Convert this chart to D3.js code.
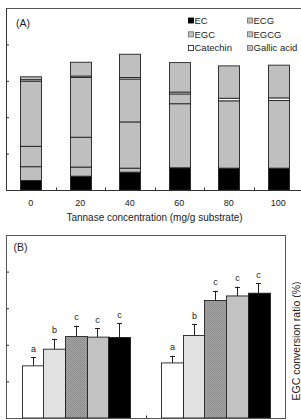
<!DOCTYPE html>
<html><head><meta charset="utf-8">
<script src="https://cdn.jsdelivr.net/npm/d3@7"></script>
<style>html,body{margin:0;padding:0;background:#fff;} svg{display:block;font-family:"Liberation Sans",Arial,sans-serif;}</style>
</head><body><svg id="c" width="301" height="420"></svg>
<script>
// ---------- Panel A data ----------
const concentrations = ["0","20","40","60","80","100"];
const compounds = ["EC","ECG","EGC","EGCG","Catechin","Gallic acid"];
const EC        = [0.26,0.38,0.49,0.61,0.60,0.60];
const ECG       = [0.38,0.25,0.11,0.00,0.00,0.00];
const EGC       = [0.56,0.82,1.27,1.76,1.85,1.86];
const EGCG      = [1.79,1.64,1.18,0.27,0.00,0.00];
const Catechin  = [0.04,0.04,0.04,0.05,0.07,0.07];
const GallicAcid= [0.08,0.38,0.64,0.81,0.89,0.90];
const yTicksA = [1,2,3,4];

// ---------- Panel B data ----------
const groupsB = ["G1","G2"];
const seriesB = ["S1","S2","S3","S4","S5"];
const meanG1 = [28.5,37.6,44.5,44.2,44.0];
const errG1  = [4.8,5.7,5.9,4.9,7.8];
const meanG2 = [30.1,45.1,64.2,66.7,68.2];
const errG2  = [3.9,6.2,5.3,5.1,5.4];
const lettersG1 = ["a","b","c","c","c"];
const lettersG2 = ["a","b","c","c","c"];
const yTicksB = [20,40,60,80];

const svg = d3.select("#c");
const ink = "#333";

// ================= PANEL A =================
const A = {l:6, r:303, t:8, b:190};
const xA = d3.scaleBand().domain(concentrations).range([A.l, A.r]).paddingInner(0.576).paddingOuter(0.288);
const yA = d3.scaleLinear().domain([0,5]).range([A.b, A.t]);

const seriesVals = {"EC":EC,"ECG":ECG,"EGC":EGC,"EGCG":EGCG,"Catechin":Catechin,"Gallic acid":GallicAcid};
const tableA = concentrations.map((c,i)=>{const o={conc:c}; compounds.forEach(k=>o[k]=seriesVals[k][i]); return o;});
const stackA = d3.stack().keys(compounds)(tableA);
const fillA = {"EC":"#000","ECG":"#bfbfbf","EGC":"#bfbfbf","EGCG":"#bfbfbf","Catechin":"#fff","Gallic acid":"#bfbfbf"};

const gA = svg.append("g");
stackA.forEach(layer=>{
  gA.selectAll(null).data(layer).enter().append("rect")
    .attr("x", d=>Math.round(xA(d.data.conc))+0.5)
    .attr("width", Math.round(xA.bandwidth()))
    .attr("y", d=>yA(d[1]))
    .attr("height", d=>yA(d[0])-yA(d[1]))
    .attr("fill", fillA[layer.key])
    .attr("stroke", "#222").attr("stroke-width", 0.9);
});

// frame: left, top, bottom
gA.append("line").attr("x1",A.l+0.5).attr("x2",A.l+0.5).attr("y1",A.t).attr("y2",A.b).attr("stroke",ink);
gA.append("line").attr("x1",A.l).attr("x2",A.r).attr("y1",A.t+0.5).attr("y2",A.t+0.5).attr("stroke","#555");
gA.append("line").attr("x1",A.l).attr("x2",A.r).attr("y1",A.b+0.5).attr("y2",A.b+0.5).attr("stroke",ink);

// y ticks (inward)
const yAxA = gA.append("g").attr("transform",`translate(${A.l+0.5},0)`)
  .call(d3.axisRight(yA).tickValues(yTicksA).tickSize(2.5).tickFormat(""));
yAxA.select(".domain").remove();
yAxA.selectAll("line").attr("stroke",ink);

// x tick labels
const xAxA = gA.append("g").attr("transform",`translate(0,${A.b})`)
  .call(d3.axisBottom(xA).tickSize(0).tickPadding(10));
xAxA.select(".domain").remove();
xAxA.selectAll("text").attr("font-size",9).attr("font-family","Liberation Sans, Arial, sans-serif").attr("fill","#222");

// x ticks between bars (inward)
const stepA = xA.step();
gA.selectAll(null).data(concentrations.slice(0,-1)).enter().append("line")
  .attr("x1", d=>Math.round(xA(d)+xA.bandwidth()/2+stepA/2)+0.5)
  .attr("x2", d=>Math.round(xA(d)+xA.bandwidth()/2+stepA/2)+0.5)
  .attr("y1", A.b).attr("y2", A.b-2.5).attr("stroke", ink);

gA.append("text").attr("x", (xA(concentrations[0])+xA(concentrations[5])+xA.bandwidth())/2).attr("y", 220.5)
  .attr("text-anchor","middle").attr("font-size",10).attr("fill","#222")
  .text("Tannase concentration (mg/g substrate)");

gA.append("text").attr("x",16).attr("y",26.5).attr("font-size",10.5).attr("fill","#222").text("(A)");

// legend
const legCols = [188, 247];
const legRows = [20.5, 34.3, 48];
const legStroke = {"EC":"#000","ECG":"#777","EGC":"#777","EGCG":"#777","Catechin":"#333","Gallic acid":"#777"};
compounds.forEach((k,i)=>{
  const cx = legCols[i%2], cy = legRows[Math.floor(i/2)];
  gA.append("rect").attr("x",cx+0.5).attr("y",cy-3+0.5).attr("width",5).attr("height",5)
    .attr("fill",fillA[k]).attr("stroke",legStroke[k]).attr("stroke-width",0.9);
  gA.append("text").attr("x",cx+6.5).attr("y",cy+3.4).attr("font-size",9.5).attr("fill","#222").text(k);
});

// ================= PANEL B =================
const B = {l:6, r:285, t:235, b:418};
const x0B = d3.scaleBand().domain(groupsB).range([B.l, B.r]).paddingInner(0.229).paddingOuter(0.1145);
const x1B = d3.scaleBand().domain(seriesB).range([0, x0B.bandwidth()]).padding(0);
const yB = d3.scaleLinear().domain([0,100]).range([B.b, B.t]);

const defs = svg.append("defs");
const pat = defs.append("pattern").attr("id","stip").attr("width",2).attr("height",2).attr("patternUnits","userSpaceOnUse");
pat.append("rect").attr("width",2).attr("height",2).attr("fill","#a8a8a8");
pat.append("rect").attr("width",1).attr("height",1).attr("fill","#858585");
pat.append("rect").attr("x",1).attr("y",1).attr("width",1).attr("height",1).attr("fill","#8e8e8e");

const fillB = ["#fff","#e1e1e1","url(#stip)","#c2c2c2","#000"];
const tableB = [
  {g:groupsB[0], mean:meanG1, err:errG1, let:lettersG1},
  {g:groupsB[1], mean:meanG2, err:errG2, let:lettersG2}
];
const flatB = [];
tableB.forEach(row=>seriesB.forEach((s,i)=>flatB.push({g:row.g,s:s,i:i,v:row.mean[i],e:row.err[i],l:row.let[i]})));

const gB = svg.append("g");
gB.selectAll(null).data(flatB).enter().append("rect")
  .attr("x", d=>Math.round(x0B(d.g)+x1B(d.s))+0.5)
  .attr("width", Math.round(x1B.bandwidth()))
  .attr("y", d=>yB(d.v))
  .attr("height", d=>yB(0)-yB(d.v))
  .attr("fill", d=>fillB[d.i]).attr("stroke","#222").attr("stroke-width",0.9);

// error bars
const cx = d=>Math.round(x0B(d.g)+x1B(d.s)+x1B.bandwidth()/2)+0.5;
gB.selectAll(null).data(flatB).enter().append("line")
  .attr("x1",cx).attr("x2",cx).attr("y1",d=>yB(d.v)).attr("y2",d=>yB(d.v+d.e)).attr("stroke","#222");
gB.selectAll(null).data(flatB).enter().append("line")
  .attr("x1",d=>cx(d)-2.5).attr("x2",d=>cx(d)+2.5).attr("y1",d=>Math.round(yB(d.v+d.e))+0.5).attr("y2",d=>Math.round(yB(d.v+d.e))+0.5).attr("stroke","#222");
gB.selectAll(null).data(flatB).enter().append("text")
  .attr("x",cx).attr("y",d=>yB(d.v+d.e)-5.5).attr("text-anchor","middle").attr("font-size",9).attr("fill","#222").text(d=>d.l);

// frame
gB.append("rect").attr("x",B.l+0.5).attr("y",B.t+0.5).attr("width",B.r-B.l).attr("height",B.b-B.t)
  .attr("fill","none").attr("stroke","#555");

const yAxB = gB.append("g").attr("transform",`translate(${B.l+0.5},0)`)
  .call(d3.axisRight(yB).tickValues(yTicksB).tickSize(2.5).tickFormat(""));
yAxB.select(".domain").remove();
yAxB.selectAll("line").attr("stroke",ink);

gB.selectAll(null).data(groupsB.slice(0,-1)).enter().append("line")
  .attr("x1", d=>Math.round(x0B(d)+x0B.bandwidth()/2+x0B.step()/2)+0.5)
  .attr("x2", d=>Math.round(x0B(d)+x0B.bandwidth()/2+x0B.step()/2)+0.5)
  .attr("y1", B.b).attr("y2", B.b-2.5).attr("stroke", ink);

gB.append("text").attr("x",13.5).attr("y",250.5).attr("font-size",10.5).attr("fill","#222").text("(B)");

gB.append("text").attr("transform","translate(299.5,341) rotate(-90)").attr("text-anchor","middle")
  .attr("font-size",10.5).attr("fill","#222").text("EGC conversion ratio (%)");
</script></body></html>
